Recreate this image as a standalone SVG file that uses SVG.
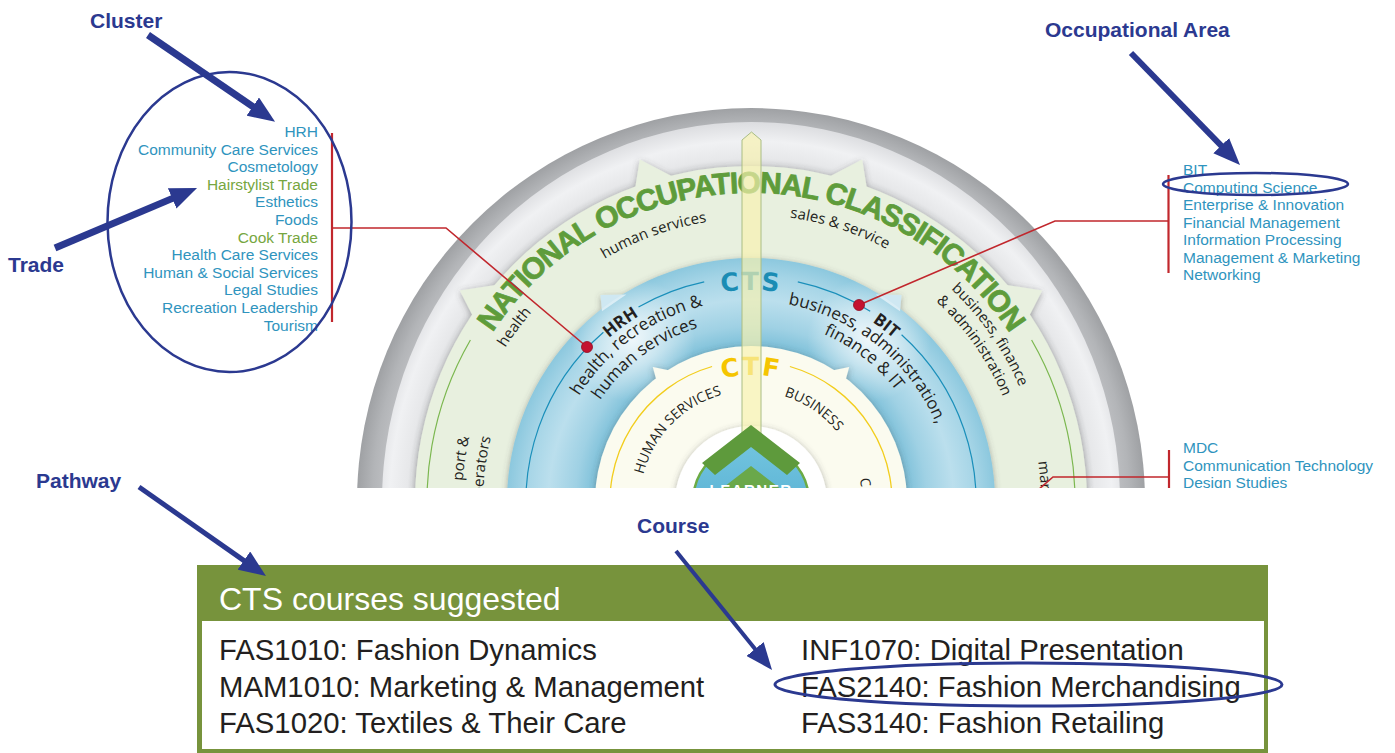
<svg xmlns="http://www.w3.org/2000/svg" width="1395" height="753" viewBox="0 0 1395 753">
<defs>
  <style>
    .lbl{font-family:"Liberation Sans",Arial,sans-serif;font-weight:bold;font-size:21px;fill:#2b3990}
    .lst{font-family:"Liberation Sans",Arial,sans-serif;font-size:15.5px;fill:#2f94be}
    .trade{fill:#76a640}
    .wl{font-family:"Open Sans","Liberation Sans",sans-serif;fill:#231f20}
    .g15{font-size:15px}
    .b17{font-size:17px}
    .c14{font-size:14px}
    .bold{font-weight:bold}
    .big{font-family:"DejaVu Sans","Liberation Sans",sans-serif;font-weight:bold;font-size:25px;letter-spacing:2px}
    .noc{font-family:"Liberation Sans",Arial,sans-serif;font-weight:bold;font-size:30px;letter-spacing:-1.2px;fill:#5e9c3b;stroke:#5e9c3b;stroke-width:0.8px}
    .crs{font-family:"Liberation Sans",Arial,sans-serif;font-size:29.3px;fill:#231f20}
    .arw{stroke:#2b3990;fill:none;marker-end:url(#ah)}
    .ring{fill:none;stroke:#2b3990}
    .red{stroke:#c1272d;fill:none}
    .dot{fill:#c41230;stroke:#8e0d22;stroke-width:0.8}
  </style>
  <marker id="ah" markerUnits="userSpaceOnUse" markerWidth="27" markerHeight="22" refX="1" refY="11" orient="auto" viewBox="0 0 27 22">
    <path d="M0,0 L27,11 L0,22 z" fill="#2b3990"/>
  </marker>
  <clipPath id="topCut"><rect x="0" y="0" width="1395" height="488"/></clipPath>
  <clipPath id="blueDisc"><circle cx="751" cy="502" r="244"/></clipPath>
  <filter id="sh" x="-15%" y="-15%" width="130%" height="130%">
    <feDropShadow dx="0" dy="1.5" stdDeviation="3" flood-color="#4a4a4a" flood-opacity="0.45"/>
  </filter>
  <radialGradient id="gOuter" gradientUnits="userSpaceOnUse" cx="751" cy="502" r="394">
    <stop offset="0.9" stop-color="#c6c7ca"/>
    <stop offset="0.96" stop-color="#b3b5b8"/>
    <stop offset="1" stop-color="#9fa1a4"/>
  </radialGradient>
  <radialGradient id="gLight" gradientUnits="userSpaceOnUse" cx="751" cy="502" r="380">
    <stop offset="0.87" stop-color="#cfd1d3"/>
    <stop offset="0.905" stop-color="#e7e8ea"/>
    <stop offset="0.95" stop-color="#f0f1f3"/>
    <stop offset="1" stop-color="#dcdde0"/>
  </radialGradient>
  <radialGradient id="gBlue" gradientUnits="userSpaceOnUse" cx="751" cy="502" r="244">
    <stop offset="0.64" stop-color="#7dc0d9"/>
    <stop offset="0.72" stop-color="#9fd1e4"/>
    <stop offset="0.83" stop-color="#bbdfed"/>
    <stop offset="0.93" stop-color="#a4d4e6"/>
    <stop offset="1" stop-color="#8cc8de"/>
  </radialGradient>
  <radialGradient id="gGlow">
    <stop offset="0" stop-color="#ffffff" stop-opacity="0.75"/>
    <stop offset="1" stop-color="#ffffff" stop-opacity="0"/>
  </radialGradient>
  <linearGradient id="gLearner" x1="0" y1="0" x2="0" y2="1">
    <stop offset="0" stop-color="#72c4df"/>
    <stop offset="1" stop-color="#4aa6cc"/>
  </linearGradient>

  <!-- baseline arcs around the wheel centre (751,502) -->
  <path id="pNOC" d="M452.5,422 A309,309 0 0 1 1049.5,422"/>
  <path id="pHumG" d="M505.2,360.1 A283,283 0 0 1 847.8,236.1"/>
  <path id="pSales" d="M643.5,235.9 A287,287 0 0 1 994.4,349.9"/>
  <path id="pHealth" d="M461.5,519.7 A290,290 0 0 1 683.3,220"/>
  <path id="pBF1" d="M826.6,219.9 A292,292 0 0 1 1041.9,527.4"/>
  <path id="pBF2" d="M821.7,238.3 A273,273 0 0 1 1023,525.8"/>
  <path id="pPort" d="M529.6,687.8 A289,289 0 0 1 469.4,437"/>
  <path id="pPer" d="M545.7,674.3 A268,268 0 0 1 491,437.2"/>
  <path id="pMar" d="M1038.2,461.6 A290,290 0 0 1 973.2,688.4"/>
  <path id="pCTS" d="M614.7,339.6 A212,212 0 0 1 887.3,339.6"/>
  <path id="pHRH" d="M540.4,449.5 A217,217 0 0 1 766.1,285.5"/>
  <path id="pHR1" d="M555,453.1 A202,202 0 0 1 765.1,300.5"/>
  <path id="pHR2" d="M574,459.5 A182,182 0 0 1 762.1,320.3"/>
  <path id="pBIT" d="M741.5,285.2 A217,217 0 0 1 962.9,455"/>
  <path id="pBA1" d="M747.5,301 A201,201 0 0 1 948.3,463.6"/>
  <path id="pBA2" d="M744.6,319.1 A183,183 0 0 1 930,464"/>
  <path id="pCTF" d="M669.4,404.7 A127,127 0 0 1 832.6,404.7"/>
  <path id="pHS" d="M640.3,493.3 A111,111 0 0 1 740.4,391.5"/>
  <path id="pBus" d="M739.4,391.6 A111,111 0 0 1 857.7,471.4"/>
  <path id="pCO" d="M859.6,478.9 A111,111 0 0 1 806.5,598.1"/>
</defs>

<rect width="1395" height="753" fill="#ffffff"/>

<!-- Wheel (upper half, cut off along y=488) -->
<g id="wheel" clip-path="url(#topCut)">
  <circle cx="751" cy="502" r="394" fill="url(#gOuter)"/>
  <ellipse cx="751" cy="502" rx="369" ry="380" fill="url(#gLight)"/>

  <g id="noc-band" filter="url(#sh)" fill="#e8f0df">
    <circle cx="751" cy="502" r="336"/>
    <polygon points="474.2,318.7 459.8,290.4 500.4,284.2"/>
    <polygon points="634.7,191 639.8,159.6 676.3,178.5"/>
    <polygon points="867.3,191 862.2,159.6 825.7,178.5"/>
    <polygon points="1027.8,318.7 1042.2,290.4 1001.6,284.2"/>
  </g>

  <g id="cts-band" filter="url(#sh)" fill="url(#gBlue)">
    <circle cx="751" cy="502" r="244"/>
    <polygon points="602,311.3 600.5,294.9 626.4,294.6" fill="#cfe8f2"/>
    <polygon points="900,311.3 901.5,294.9 875.6,294.6" fill="#cfe8f2"/>
  </g>
  <g clip-path="url(#blueDisc)">
    <circle cx="633" cy="340" r="62" fill="url(#gGlow)"/>
    <circle cx="869" cy="340" r="62" fill="url(#gGlow)"/>
  </g>

  <g id="ctf-band" filter="url(#sh)" fill="#fbfbef">
    <circle cx="751" cy="502" r="156"/>
    <polygon points="656.8,381.4 652.8,366.9 672.2,370.9"/>
    <polygon points="845.2,381.4 849.2,366.9 829.8,370.9"/>
  </g>

  <g id="learner">
    <circle cx="751" cy="502" r="76" fill="#ffffff" filter="url(#sh)"/>
    <circle cx="751" cy="502" r="58" fill="url(#gLearner)" stroke="#6cab45" stroke-width="2.5"/>
  </g>

  <!-- ring guide lines -->
  <g fill="none">
    <path d="M431.9,558.3 A324,324 0 0 1 470.4,340 M1031.6,340 A324,324 0 0 1 1070.1,558.3" stroke="#7bb74f" stroke-width="1.2"/>
    <path d="M529.4,541.1 A225,225 0 0 1 603.4,332.2 M638.5,307.1 A225,225 0 0 1 704.2,281.9 M797.8,281.9 A225,225 0 0 1 870.2,311.2 M901.6,334.8 A225,225 0 0 1 972.6,541.1" stroke="#1a8fba" stroke-width="1.2"/>
    <path d="M612.1,526.5 A141,141 0 0 1 712.1,366.5 M789.9,366.5 A141,141 0 0 1 889.9,526.5" stroke="#f2cd1d" stroke-width="1.3"/>
  </g>

  <!-- ring labels -->
  <text class="noc"><textPath href="#pNOC" startOffset="50%" text-anchor="middle">NATIONAL OCCUPATIONAL CLASSIFICATION</textPath></text>
  <g class="wl g15">
    <text><textPath href="#pHumG" startOffset="50%" text-anchor="middle">human services</textPath></text>
    <text><textPath href="#pSales" startOffset="50%" text-anchor="middle">sales &amp; service</textPath></text>
    <text><textPath href="#pHealth" startOffset="50%" text-anchor="middle">health</textPath></text>
    <text><textPath href="#pBF1" startOffset="50%" text-anchor="middle">business, finance</textPath></text>
    <text><textPath href="#pBF2" startOffset="50%" text-anchor="middle">&amp; administration</textPath></text>
    <text><textPath href="#pPort" startOffset="100%" text-anchor="end">port &amp;</textPath></text>
    <text><textPath href="#pPer" startOffset="100%" text-anchor="end">perators</textPath></text>
    <text><textPath href="#pMar">mar</textPath></text>
  </g>
  <text class="big" fill="#1a8cb4"><textPath href="#pCTS" startOffset="50%" text-anchor="middle">CTS</textPath></text>
  <g class="wl b17">
    <text class="bold"><textPath href="#pHRH" startOffset="50%" text-anchor="middle">HRH</textPath></text>
    <text><textPath href="#pHR1" startOffset="50%" text-anchor="middle">health, recreation &amp;</textPath></text>
    <text><textPath href="#pHR2" startOffset="50%" text-anchor="middle">human services</textPath></text>
    <text class="bold"><textPath href="#pBIT" startOffset="50%" text-anchor="middle">BIT</textPath></text>
    <text><textPath href="#pBA1" startOffset="50%" text-anchor="middle">business, administration,</textPath></text>
    <text><textPath href="#pBA2" startOffset="50%" text-anchor="middle">finance &amp; IT</textPath></text>
  </g>
  <text class="big" fill="#f5c500"><textPath href="#pCTF" startOffset="50%" text-anchor="middle">CTF</textPath></text>
  <g class="wl c14">
    <text><textPath href="#pHS" startOffset="50%" text-anchor="middle">HUMAN SERVICES</textPath></text>
    <text><textPath href="#pBus" startOffset="50%" text-anchor="middle">BUSINESS</textPath></text>
    <text><textPath href="#pCO">C</textPath></text>
  </g>

  <!-- translucent pointer bar -->
  <polygon points="742,445 742,140 751.5,132 761,140 761,445" fill="#f7f2b0" fill-opacity="0.68" stroke="#a9bd84" stroke-width="1"/>

  <!-- chevrons -->
  <polygon points="751,425 800,463 787,475 751,447 715,475 702,463" fill="#5e9a3c"/>
  <polygon points="751,466 782,490 770,500 751,485 732,500 720,490" fill="#6aa84a"/>
  <text x="751" y="495" text-anchor="middle" font-family="Liberation Sans, Arial, sans-serif" font-weight="bold" font-size="15" letter-spacing="1.5" fill="#ffffff">LEARNER</text>

  <!-- connectors from lists to the wheel -->
  <g id="connectors">
    <path class="red" stroke-width="2.2" d="M332,133 V322"/>
    <path class="red" stroke-width="1.6" d="M332,228 H446 L587,347"/>
    <path class="red" stroke-width="2.2" d="M1168.5,175 V273"/>
    <path class="red" stroke-width="1.6" d="M1168.5,221 H1055 L859,305"/>
    <path class="red" stroke-width="2.2" d="M1169,450 V495"/>
    <path class="red" stroke-width="1.6" d="M1169,477 H1053 L1030,497"/>
    <circle class="dot" cx="587" cy="347" r="5.5"/>
    <circle class="dot" cx="859" cy="305" r="5.5"/>
  </g>

  <!-- MDC list (cut with the wheel) -->
  <g id="mdc-list" class="lst">
    <text x="1183" y="453">MDC</text>
    <text x="1183" y="470.5">Communication Technology</text>
    <text x="1183" y="488">Design Studies</text>
  </g>
</g>

<!-- HRH cluster list -->
<g id="hrh-list" class="lst" text-anchor="end">
  <text x="318" y="137">HRH</text>
  <text x="318" y="154.6">Community Care Services</text>
  <text x="318" y="172.2">Cosmetology</text>
  <text x="318" y="189.8" class="trade">Hairstylist Trade</text>
  <text x="318" y="207.4">Esthetics</text>
  <text x="318" y="225">Foods</text>
  <text x="318" y="242.6" class="trade">Cook Trade</text>
  <text x="318" y="260.2">Health Care Services</text>
  <text x="318" y="277.8">Human &amp; Social Services</text>
  <text x="318" y="295.4">Legal Studies</text>
  <text x="318" y="313">Recreation Leadership</text>
  <text x="318" y="330.6">Tourism</text>
</g>

<!-- BIT occupational area list -->
<g id="bit-list" class="lst">
  <text x="1183" y="175">BIT</text>
  <text x="1183" y="192.5">Computing Science</text>
  <text x="1183" y="210">Enterprise &amp; Innovation</text>
  <text x="1183" y="227.5">Financial Management</text>
  <text x="1183" y="245">Information Processing</text>
  <text x="1183" y="262.5">Management &amp; Marketing</text>
  <text x="1183" y="280">Networking</text>
</g>

<!-- Course box -->
<g id="course-box">
  <rect x="197" y="565" width="1071" height="188" fill="#77933c"/>
  <rect x="202" y="621" width="1062" height="128" fill="#ffffff"/>
  <text x="219" y="610" font-family="Liberation Sans, Arial, sans-serif" font-size="32" fill="#ffffff">CTS courses suggested</text>
  <g class="crs">
    <text x="219" y="660">FAS1010: Fashion Dynamics</text>
    <text x="219" y="696.5">MAM1010: Marketing &amp; Management</text>
    <text x="219" y="733">FAS1020: Textiles &amp; Their Care</text>
    <text x="801" y="660">INF1070: Digital Presentation</text>
    <text x="801" y="696.5">FAS2140: Fashion Merchandising</text>
    <text x="801" y="733">FAS3140: Fashion Retailing</text>
  </g>
</g>

<!-- highlight rings -->
<g id="highlights">
  <ellipse class="ring" stroke-width="2.5" cx="229.5" cy="222" rx="122" ry="150"/>
  <ellipse class="ring" stroke-width="2.5" cx="1255.5" cy="184" rx="92.5" ry="11"/>
  <ellipse class="ring" stroke-width="3" cx="1028.5" cy="684.5" rx="253.5" ry="21.5"/>
</g>

<!-- callout labels -->
<g id="label-cluster"><text class="lbl" x="90" y="28">Cluster</text></g>
<g id="label-trade"><text class="lbl" x="8" y="272">Trade</text></g>
<g id="label-area"><text class="lbl" x="1045" y="37">Occupational Area</text></g>
<g id="label-pathway"><text class="lbl" x="36" y="488">Pathway</text></g>
<g id="label-course"><text class="lbl" x="637" y="533">Course</text></g>

<!-- callout arrows -->
<g id="arrows">
  <path class="arw" stroke-width="7" d="M148,35 L253.6,107.1"/>
  <path class="arw" stroke-width="7" d="M55,248 L173.1,198.1"/>
  <path class="arw" stroke-width="6" d="M1131,53 L1221.9,146.4"/>
  <path class="arw" stroke-width="5" d="M139,487 L244.7,561.1"/>
  <path class="arw" stroke-width="4" d="M676,551 L755.7,649.8"/>
</g>
</svg>
